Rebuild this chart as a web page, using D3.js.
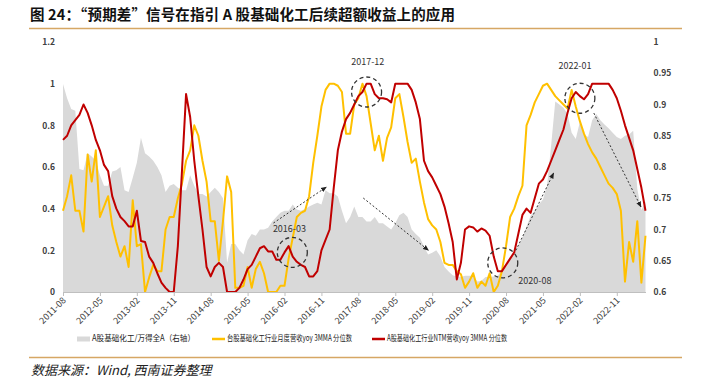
<!DOCTYPE html>
<html>
<head>
<meta charset="utf-8">
<script src="https://cdn.jsdelivr.net/npm/d3@7"></script>
<style>
  body { margin: 0; background: #fff; }
  svg text { font-family: "Noto Sans CJK SC", "Liberation Sans", sans-serif; }
</style>
</head>
<body>
<svg id="chart" width="704" height="379"></svg>
<script>
// Monthly series, 2011-08 .. 2023-06 (143 points).
const startMonth = new Date(2011, 7, 1);
const endMonth = new Date(2023, 6, 1);

// A股基础化工/万得全A (right axis)
const relStrength = [
  0.933, 0.91, 0.893, 0.89, 0.797, 0.795, 0.822, 0.817, 0.81, 0.787,
  0.77, 0.77, 0.793, 0.795, 0.8, 0.763, 0.76, 0.783, 0.807, 0.847,
  0.822, 0.817, 0.81, 0.8, 0.787, 0.76, 0.77, 0.773, 0.767, 0.763,
  0.763, 0.787, 0.77, 0.757, 0.757, 0.753, 0.76, 0.767, 0.76, 0.75,
  0.647, 0.677, 0.677, 0.667, 0.66, 0.683, 0.693, 0.69, 0.7, 0.7,
  0.703, 0.713, 0.72, 0.727, 0.73, 0.73, 0.74, 0.732, 0.73, 0.733,
  0.737, 0.74, 0.743, 0.74, 0.763, 0.758, 0.758, 0.753, 0.73, 0.71,
  0.72, 0.737, 0.72, 0.72, 0.713, 0.713, 0.72, 0.71, 0.71, 0.705,
  0.7, 0.71, 0.723, 0.727, 0.72, 0.7, 0.693, 0.687, 0.673, 0.66,
  0.663, 0.667, 0.657, 0.64, 0.633, 0.627, 0.625, 0.624, 0.626, 0.626,
  0.626, 0.617, 0.618, 0.624, 0.624, 0.625, 0.626, 0.635, 0.64, 0.652,
  0.66, 0.675, 0.687, 0.705, 0.722, 0.73, 0.74, 0.748, 0.77, 0.835,
  0.905, 0.9, 0.895, 0.885, 0.855, 0.845, 0.872, 0.852, 0.848, 0.875,
  0.885, 0.875, 0.868, 0.862, 0.855, 0.848, 0.845, 0.85, 0.852, 0.858,
  0.765, 0.731, 0.745
];

// 台股基础化工行业月度营收yoy 3MMA 分位数
const twRevenue = [
  0.39, 0.46, 0.56, 0.39, 0.39, 0.29, 0.66, 0.53, 0.68, 0.36,
  0.41, 0.46, 0.32, 0.24, 0.17, 0.22, 0.12, 0.44, 0.22, 0.23,
  0.0, 0.07, 0.13, 0.1, 0.1, 0.3, 0.36, 0.36, 0.45, 0.52,
  0.63, 0.68, 0.8, 0.75, 0.63, 0.53, 0.34, 0.34, 0.15, 0.34,
  0.555, 0.48, 0.02, 0.02, 0.03, 0.12, 0.02, 0.11, 0.145, 0.09,
  0.0, 0.0, 0.0, 0.03, 0.03, 0.16, 0.26, 0.36, 0.38, 0.39,
  0.46, 0.62, 0.75, 0.89, 0.97, 1.0, 1.0, 0.99, 0.96, 0.76,
  0.76, 0.9, 0.93, 1.0, 0.94, 0.81, 0.68, 0.75, 0.63, 0.74,
  0.79, 0.93, 0.95, 0.84, 0.72, 0.62, 0.64, 0.53, 0.43, 0.35,
  0.32, 0.3, 0.24, 0.14, 0.13, 0.13, 0.1, 0.085, 0.02, 0.05,
  0.09, 0.02, 0.05, 0.03, 0.09, 0.0, 0.03, 0.1, 0.22, 0.36,
  0.4, 0.46, 0.51, 0.8, 0.85, 0.91, 0.95, 0.99, 1.0, 0.97,
  0.94, 0.92, 0.9, 0.88, 0.97, 0.89, 0.82, 0.76, 0.71, 0.67,
  0.64, 0.6, 0.56, 0.52, 0.5, 0.47, 0.39, 0.05, 0.24, 0.145,
  0.34, 0.045, 0.27
];

// A股基础化工行业NTM营收yoy 3MMA 分位数
const aNtmRevenue = [
  0.73, 0.75, 0.8, 0.825, 0.85, 0.9, 0.86, 0.8, 0.73, 0.68,
  0.61, 0.58, 0.46, 0.4, 0.36, 0.34, 0.315, 0.315, 0.39, 0.245,
  0.24, 0.17, 0.14, 0.09, 0.045, 0.02, 0.0, 0.0, 0.22, 0.58,
  0.95, 0.84, 0.63, 0.46, 0.3, 0.12, 0.075, 0.12, 0.14, 0.12,
  0.0, 0.0, 0.0, 0.02, 0.06, 0.11, 0.13, 0.17, 0.21, 0.22,
  0.195, 0.195, 0.155, 0.155, 0.19, 0.22, 0.17, 0.145, 0.13, 0.12,
  0.075, 0.075, 0.1, 0.2, 0.25, 0.3, 0.5, 0.68, 0.77, 0.83,
  0.86, 0.9, 0.94, 0.96, 1.0, 1.0, 0.95, 0.93, 0.93, 0.925,
  0.91, 1.0, 1.0, 1.0, 1.0, 0.97, 0.91, 0.83, 0.63, 0.58,
  0.55, 0.51, 0.47, 0.41, 0.33, 0.24, 0.06, 0.14, 0.3, 0.315,
  0.31, 0.29, 0.305, 0.295, 0.27, 0.17, 0.1, 0.1, 0.13, 0.16,
  0.19, 0.28, 0.37, 0.4, 0.38, 0.45, 0.52, 0.54, 0.58, 0.63,
  0.68, 0.73, 0.78, 0.86, 0.93, 0.96, 0.94, 0.925, 0.95, 1.0,
  1.0, 1.0, 1.0, 1.0, 0.97, 0.93, 0.87, 0.8, 0.74, 0.68,
  0.59, 0.5, 0.39
];

const xTickLabels = ["2011-08", "2012-05", "2013-02", "2013-11", "2014-08", "2015-05",
  "2016-02", "2016-11", "2017-08", "2018-05", "2019-02", "2019-11", "2020-08",
  "2021-05", "2022-02", "2022-11"];
const leftTicks = [0, 0.2, 0.4, 0.6, 0.8, 1, 1.2];
const rightTicks = [0.6, 0.65, 0.7, 0.75, 0.8, 0.85, 0.9, 0.95, 1];

const legendLabels = ["A股基础化工/万得全A（右轴）", "台股基础化工行业月度营收yoy 3MMA 分位数", "A股基础化工行业NTM营收yoy 3MMA 分位数"];

// Annotations: month index and left-axis value.
const circleNotes = [
  { label: "2016-03", i: 55.9, v: 0.19, li: 55.2, lv: 0.3, anchor: "middle" },
  { label: "2017-12", i: 74.0, v: 0.96, li: 74.3, lv: 1.1, anchor: "middle" },
  { label: "2020-08", i: 107.2, v: 0.14, li: 111.0, lv: 0.05, anchor: "start" },
  { label: "2022-01", i: 126.0, v: 0.93, li: 124.8, lv: 1.08, anchor: "middle" }
];
const arrowNotes = [
  { i0: 51.3, v0: 0.331, i1: 64.2, v1: 0.504 },
  { i0: 73.2, v0: 0.451, i1: 89.1, v1: 0.2 },
  { i0: 110.4, v0: 0.2, i1: 119.6, v1: 0.571 },
  { i0: 129.4, v0: 0.859, i1: 140.9, v1: 0.408 }
];

const months = d3.timeMonth.range(startMonth, endMonth).map(d3.timeFormat("%Y-%m"));

const svg = d3.select("#chart");
const plot = { left: 63, right: 645.5, top: 42, bottom: 292 };

const x = d3.scaleLinear().domain([0, months.length - 1]).range([plot.left, plot.right]);
const yL = d3.scaleLinear().domain([0, 1.2]).range([plot.bottom, plot.top]);
const yR = d3.scaleLinear().domain([0.6, 1]).range([plot.bottom, plot.top]);

// Title
svg.append("text").attr("x", 30).attr("y", 20)
  .attr("font-size", "14.5px").attr("font-weight", "bold").attr("fill", "#111")
  .attr("textLength", 425).attr("lengthAdjust", "spacing")
  .text("图 24：“预期差”信号在指引 A 股基础化工后续超额收益上的应用");
svg.append("line").attr("x1", 29).attr("x2", 682).attr("y1", 28.5).attr("y2", 28.5)
  .attr("stroke", "#D6A764").attr("stroke-width", 1.5);

// Gray area (right axis)
svg.append("path")
  .datum(relStrength)
  .attr("fill", "#D9D9D9")
  .attr("d", d3.area().x((d, i) => x(i)).y0(yR(0.6)).y1(d => yR(d)));

// Lines
const lineL = d3.line().x((d, i) => x(i)).y(d => yL(d));
svg.append("path").datum(twRevenue)
  .attr("fill", "none").attr("stroke", "#FFC000").attr("stroke-width", 2)
  .attr("stroke-linejoin", "round").attr("d", lineL);
svg.append("path").datum(aNtmRevenue)
  .attr("fill", "none").attr("stroke", "#C00000").attr("stroke-width", 2)
  .attr("stroke-linejoin", "round").attr("d", lineL);

// Axes
const gx = svg.append("g").attr("transform", `translate(0,${plot.bottom})`)
  .call(d3.axisBottom(x)
    .tickValues(xTickLabels.map(l => months.indexOf(l)))
    .tickFormat(i => months[i])
    .tickSize(4).tickSizeOuter(0));
gx.select(".domain").attr("stroke", "#BFBFBF");
gx.selectAll(".tick line").attr("stroke", "#BFBFBF");
gx.selectAll(".tick text")
  .attr("font-size", "9px").attr("fill", "#404040")
  .attr("text-anchor", "end").attr("x", 0).attr("y", 0).attr("dy", 0)
  .attr("transform", "translate(3,9) rotate(-45)");

const gl = svg.append("g").attr("transform", `translate(${plot.left},0)`)
  .call(d3.axisLeft(yL).tickValues(leftTicks).tickFormat(d3.format("~g")).tickSize(0).tickPadding(8));
gl.select(".domain").remove();
gl.selectAll(".tick text").attr("font-size", "8.5px").attr("font-weight", "bold").attr("fill", "#404040");

const gr = svg.append("g").attr("transform", `translate(${plot.right},0)`)
  .call(d3.axisRight(yR).tickValues(rightTicks).tickFormat(d3.format("~g")).tickSize(0).tickPadding(8));
gr.select(".domain").remove();
gr.selectAll(".tick text").attr("font-size", "8.5px").attr("font-weight", "bold").attr("fill", "#404040");

// Annotations
const defs = svg.append("defs");
defs.append("marker").attr("id", "arrow").attr("viewBox", "0 0 10 10")
  .attr("refX", 9).attr("refY", 5).attr("markerWidth", 6).attr("markerHeight", 6)
  .attr("orient", "auto")
  .append("path").attr("d", "M0,1L10,5L0,9Z").attr("fill", "#222");

svg.selectAll(".note-arrow").data(arrowNotes).join("line")
  .attr("class", "note-arrow")
  .attr("x1", d => x(d.i0)).attr("y1", d => yL(d.v0))
  .attr("x2", d => x(d.i1)).attr("y2", d => yL(d.v1))
  .attr("stroke", "#333").attr("stroke-width", 1).attr("stroke-dasharray", "2,2")
  .attr("marker-end", "url(#arrow)");

svg.selectAll(".note-circle").data(circleNotes).join("circle")
  .attr("class", "note-circle")
  .attr("cx", d => x(d.i)).attr("cy", d => yL(d.v)).attr("r", 15)
  .attr("fill", "none").attr("stroke", "#333").attr("stroke-width", 1.3)
  .attr("stroke-dasharray", "4,3");

svg.selectAll(".note-label").data(circleNotes).join("text")
  .attr("class", "note-label")
  .attr("x", d => x(d.li)).attr("y", d => yL(d.lv))
  .attr("text-anchor", d => d.anchor).attr("dominant-baseline", "middle")
  .attr("font-size", "9px").attr("fill", "#333")
  .text(d => d.label);

// Legend
const lg = svg.append("g").attr("transform", "translate(0,339)");
lg.append("rect").attr("x", 77).attr("y", -2.5).attr("width", 13).attr("height", 5).attr("fill", "#D9D9D9");
lg.append("line").attr("x1", 212).attr("x2", 225).attr("stroke", "#FFC000").attr("stroke-width", 2.5);
lg.append("line").attr("x1", 372).attr("x2", 385).attr("stroke", "#C00000").attr("stroke-width", 2.5);
const legendPos = [[92, 103], [227, 125], [387, 120]];
legendPos.forEach(([lx, w], k) => {
  lg.append("text").attr("x", lx).attr("y", 0).attr("dominant-baseline", "middle")
    .attr("font-size", "8.5px").attr("fill", "#222")
    .attr("textLength", w).attr("lengthAdjust", "spacingAndGlyphs")
    .text(legendLabels[k]);
});

// Footer
svg.append("line").attr("x1", 29).attr("x2", 682).attr("y1", 357.5).attr("y2", 357.5)
  .attr("stroke", "#D6A764").attr("stroke-width", 1.5);
svg.append("text").attr("x", 31).attr("y", 375)
  .attr("font-size", "13px").attr("font-style", "italic").attr("fill", "#222")
  .text("数据来源：Wind, 西南证券整理");
</script>
</body>
</html>
